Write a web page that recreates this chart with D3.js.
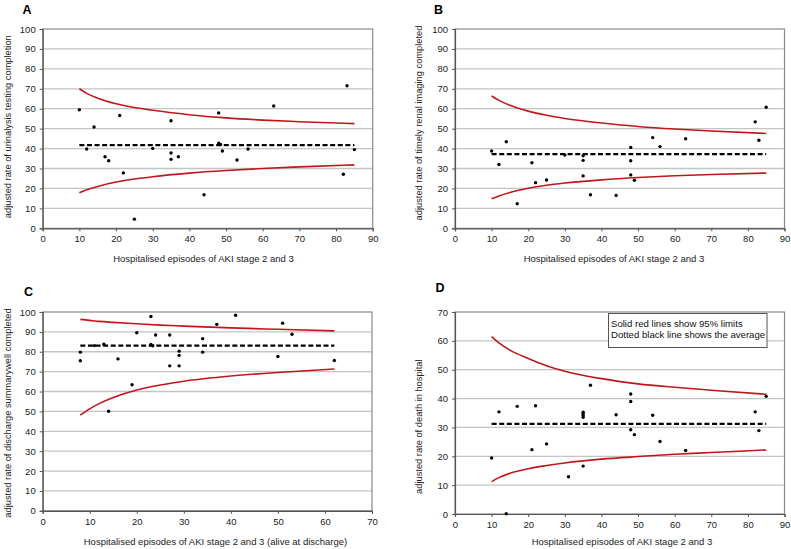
<!DOCTYPE html>
<html>
<head>
<meta charset="utf-8">
<script src="https://cdn.jsdelivr.net/npm/d3@7"></script>
<style>
  body { margin: 0; background: #fff; }
  svg { display: block; font-family: "Liberation Sans", Arial, sans-serif; }
</style>
</head>
<body>
<svg id="chart" width="791" height="549"></svg>
<script>
const limitEpisodes = [10, 12, 15, 20, 25, 30, 40, 50, 60, 70, 85]
const limitEpisodesC = [8, 10, 12, 15, 20, 25, 30, 40, 50, 62]

// A - urinalysis testing
const episodesA = [10, 12, 14, 17, 18, 21, 22, 25, 30, 35, 35, 35, 37, 44, 48, 48, 48.5, 49, 53, 56, 63, 82, 83, 85]
const rateA = [59.5, 39.8, 50.8, 35.9, 33.9, 56.6, 27.8, 4.6, 40.1, 54, 37.8, 34.6, 35.9, 16.8, 57.9, 42.7, 42.1, 38.8, 34.3, 39.8, 61.4, 27.1, 71.5, 39.5]
const upperA = [70, 67.7, 65.3, 62.5, 60.6, 59.2, 57, 55.4, 54.3, 53.5, 52.5]
const lowerA = [17.8, 19.3, 21, 23.2, 24.7, 25.9, 27.7, 29, 30, 30.8, 31.8]
const averageA = 41.7

// B - timely renal imaging
const episodesB = [10, 12, 14, 17, 21, 22, 25, 30, 35, 35, 35, 37, 44, 48, 48, 48, 49, 54, 56, 63, 82, 83, 85]
const rateB = [38.8, 32, 43.4, 12.3, 32.9, 22.9, 24.2, 36.8, 36.4, 34.1, 26.3, 16.8, 16.5, 40.6, 33.9, 26.8, 24.1, 45.5, 41, 44.9, 53.4, 44.2, 60.7]
const upperB = [66.4, 64.2, 61.7, 58.8, 56.7, 55.1, 52.8, 51.1, 49.8, 48.8, 47.6]
const lowerB = [14.8, 16.2, 18, 20.1, 21.6, 22.7, 24.3, 25.5, 26.4, 27, 27.7]
const averageB = 37.2

// C - discharge summary
const episodesC = [8, 8, 11, 13, 14, 16, 19, 20, 23, 23, 23.4, 24, 27, 27, 29, 29, 29, 34, 34, 37, 41, 50, 51, 53, 62]
const rateC = [79.8, 75.5, 83.1, 83.8, 50.1, 76.4, 63.4, 89.6, 97.7, 83.7, 83, 88.4, 88.4, 72.9, 80.3, 78.2, 72.9, 86.6, 79.8, 93.8, 98.4, 77.6, 94.4, 88.8, 75.6]
const upperC = [96.3, 95.8, 95.3, 94.8, 94.1, 93.4, 92.9, 92, 91.3, 90.5]
const lowerC = [48.2, 51.3, 53.9, 57, 60.8, 63.3, 65.2, 67.8, 69.6, 71.3]
const averageC = 83.1

// D - death in hospital
const episodesD = [10, 12, 14, 17, 21, 22, 25, 31, 35, 35, 35, 35, 35, 37, 44, 48, 48, 48, 49, 54, 56, 63, 82, 83, 85]
const rateD = [19.4, 35.4, 0.1, 37.3, 22.3, 37.5, 24.3, 12.9, 35.3, 34.7, 34.1, 33.5, 16.6, 44.6, 34.4, 41.6, 39, 29.2, 27.5, 34.2, 25.1, 22, 35.4, 28.9, 40.8]
const upperD = [61.5, 59.3, 56.8, 53.9, 51.4, 49.5, 46.9, 45.1, 43.9, 42.9, 41.5]
const lowerD = [11.2, 12.6, 14.1, 15.7, 16.8, 17.7, 19, 19.9, 20.7, 21.3, 22.2]
const averageD = 31.2

const legendLines = ["Solid red lines show 95% limits", "Dotted black line shows the average"]

const svg = d3.select("#chart")

function drawPanel(p) {
    const x = d3.scaleLinear().domain([0, p.xMax]).range([p.left, p.right])
    const y = d3.scaleLinear().domain([0, p.yMax]).range([p.bottom, p.top])
    const g = svg.append("g")

    // horizontal grid
    g.append("g")
        .selectAll("line")
        .data(d3.range(10, p.yMax, 10))
        .join("line")
        .attr("x1", p.left).attr("x2", p.right)
        .attr("y1", d => y(d)).attr("y2", d => y(d))
        .attr("stroke", "#c4c4c4")
        .attr("stroke-width", 1.3)

    // frame
    g.append("rect")
        .attr("x", p.left).attr("y", p.top)
        .attr("width", p.right - p.left).attr("height", p.bottom - p.top)
        .attr("fill", "none")
        .attr("stroke", "#8a8a8a")
        .attr("stroke-width", 1.2)

    const xAxis = g.append("g")
        .attr("transform", `translate(0,${p.bottom})`)
        .call(d3.axisBottom(x).tickValues(d3.range(0, p.xMax + 1, 10)).tickSize(3).tickPadding(4))
    const yAxis = g.append("g")
        .attr("transform", `translate(${p.left},0)`)
        .call(d3.axisLeft(y).tickValues(d3.range(0, p.yMax + 1, 10)).tickSize(3).tickPadding(4))

    ;[xAxis, yAxis].forEach(a => {
        a.select(".domain").attr("stroke", "#555").attr("stroke-width", 1.2)
        a.selectAll(".tick line").attr("stroke", "#555")
        a.selectAll(".tick text")
            .attr("fill", "#222")
            .style("font-size", "9.5px")
            .style("font-family", "'Liberation Sans', Arial, sans-serif")
    })

    // 95% limit curves
    const limitLine = d3.line()
        .x((d, i) => x(p.limitX[i]))
        .y(d => y(d))
        .curve(d3.curveMonotoneX)
    ;[p.upper, p.lower].forEach(series => {
        g.append("path")
            .datum(series)
            .attr("d", limitLine)
            .attr("fill", "none")
            .attr("stroke", "#c0161c")
            .attr("stroke-width", 1.6)
    })

    // average line
    g.append("line")
        .attr("x1", x(p.limitX[0])).attr("x2", x(p.limitX[p.limitX.length - 1]))
        .attr("y1", y(p.average)).attr("y2", y(p.average))
        .attr("stroke", "#000")
        .attr("stroke-width", 2.3)
        .attr("stroke-dasharray", "5,2.6")

    // hospitals
    g.append("g")
        .selectAll("circle")
        .data(p.xs)
        .join("circle")
        .attr("cx", d => x(d))
        .attr("cy", (d, i) => y(p.ys[i]))
        .attr("r", 1.7)
        .attr("fill", "#000")

    // labels
    g.append("text")
        .attr("x", p.letterX).attr("y", p.letterY)
        .style("font-size", "12.5px").style("font-weight", "bold")
        .text(p.letter)

    g.append("text")
        .attr("x", p.xLabelX).attr("y", p.xLabelY)
        .attr("text-anchor", "middle")
        .attr("fill", "#222")
        .style("font-size", "9.5px")
        .text(p.xLabel)

    g.append("text")
        .attr("transform", `translate(${p.yLabelX},${p.yLabelY}) rotate(-90)`)
        .attr("text-anchor", "middle")
        .attr("fill", "#222")
        .style("font-size", "9.3px")
        .text(p.yLabel)

    return {x, y, g}
}

drawPanel({
    letter: "A", letterX: 22.5, letterY: 13.5,
    left: 42.7, right: 372.7, top: 29, bottom: 228.3, xMax: 90, yMax: 100,
    xs: episodesA, ys: rateA, limitX: limitEpisodes, upper: upperA, lower: lowerA, average: averageA,
    xLabel: "Hospitalised episodes of AKI stage 2 and 3", xLabelX: 203.5, xLabelY: 261.5,
    yLabel: "adjusted rate of urinalysis testing completion", yLabelX: 11.3, yLabelY: 126.7
})

drawPanel({
    letter: "B", letterX: 434, letterY: 13.5,
    left: 455, right: 784.5, top: 29, bottom: 228.3, xMax: 90, yMax: 100,
    xs: episodesB, ys: rateB, limitX: limitEpisodes, upper: upperB, lower: lowerB, average: averageB,
    xLabel: "Hospitalised episodes of AKI stage 2 and 3", xLabelX: 614, xLabelY: 261.5,
    yLabel: "adjusted rate of timely renal imaging completed", yLabelX: 421.5, yLabelY: 123
})

drawPanel({
    letter: "C", letterX: 24, letterY: 295.5,
    left: 42.7, right: 372, top: 312, bottom: 510.8, xMax: 70, yMax: 100,
    xs: episodesC, ys: rateC, limitX: limitEpisodesC, upper: upperC, lower: lowerC, average: averageC,
    xLabel: "Hospitalised episodes of AKI stage 2 and 3 (alive at discharge)", xLabelX: 215.5, xLabelY: 545,
    yLabel: "adjusted rate of discharge summarywell completed", yLabelX: 11.3, yLabelY: 413
})

const panelD = drawPanel({
    letter: "D", letterX: 435.5, letterY: 291.5,
    left: 455, right: 784.5, top: 312, bottom: 514, xMax: 90, yMax: 70,
    xs: episodesD, ys: rateD, limitX: limitEpisodes, upper: upperD, lower: lowerD, average: averageD,
    xLabel: "Hospitalised episodes of AKI stage 2 and 3", xLabelX: 622, xLabelY: 545,
    yLabel: "adjusted rate of death in hospital", yLabelX: 421.5, yLabelY: 426.7
})

// key box in panel D
const key = panelD.g.append("g")
key.append("rect")
    .attr("x", 608.5).attr("y", 313.5)
    .attr("width", 158.5).attr("height", 34)
    .attr("fill", "#fff")
    .attr("stroke", "#555")
    .attr("stroke-width", 1)
key.selectAll("text")
    .data(legendLines)
    .join("text")
    .attr("x", 611).attr("y", (d, i) => 327 + i * 10.8)
    .attr("fill", "#111")
    .style("font-size", "9.6px")
    .text(d => d)
</script>
</body>
</html>
